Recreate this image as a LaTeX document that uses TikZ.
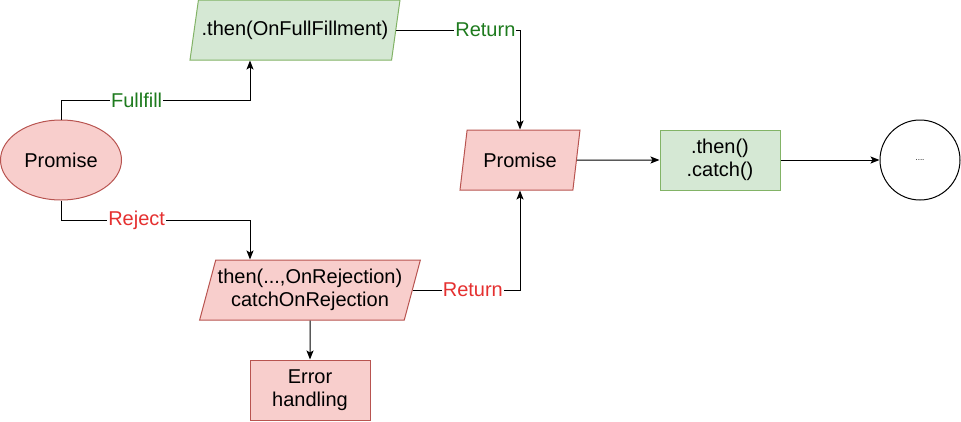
\documentclass[tikz,border=0pt]{standalone}
\usepackage{fontspec}
\setmainfont{Liberation Sans}
\usetikzlibrary{shapes.geometric,positioning,arrows.meta,calc}
\definecolor{okfill}{HTML}{D5E8D4}
\definecolor{okline}{HTML}{82B366}
\definecolor{errfill}{HTML}{F8CECC}
\definecolor{errline}{HTML}{B85450}
\definecolor{oktext}{HTML}{1E7B1E}
\definecolor{errtext}{HTML}{E53030}
\tikzset{
    block/.style = {draw, rectangle,
        minimum height=60,
        minimum width=120, align=center},
    io/.style = {draw, trapezium, trapezium left angle=71.57,
        trapezium right angle=108.43, trapezium stretches body,
        minimum height=60, inner xsep=2pt, align=center},
    term/.style = {draw, ellipse, minimum width=121, minimum height=80, inner sep=0pt},
    sink/.style = {draw, circle, minimum size=80, inner sep=0pt},
    lbl/.style = {fill=white, inner sep=1pt},
    arrow/.style = {draw, ->}
}

\begin{document}
\begin{tikzpicture}[x=1pt, y=-1pt, line width=1pt, >={Stealth[length=9pt,width=7pt,inset=2pt]},
    font=\fontsize{20}{23}\selectfont]
    \useasboundingbox (0,0) rectangle (961,421);
    % start
    \node [term, fill=errfill, draw=errline] (prom) at (61,160) {Promise};
    % both branches
    \node [io, fill=okfill, draw=okline, minimum width=210] (thenf) at (295,30) {.then(OnFullFillment)};
    \node [io, fill=errfill, draw=errline, minimum width=220] (catchr) at (310,290) {then(...,OnRejection)\\catchOnRejection};
    \node [block, fill=errfill, draw=errline, below of=catchr, node distance=100] (err) {Error\\handling};
    % chain
    \node [io, fill=errfill, draw=errline, minimum width=120] (prom2) at (520,160) {Promise};
    \node [block, fill=okfill, draw=okline, right of=prom2, node distance=200] (chain) {.then()\\.catch()};
    \node [sink, right of=chain, node distance=200, font=\fontsize{8}{10}\selectfont] (more) {....};
    \coordinate (fk) at (250,100);
    \coordinate (rk) at (250,220);
    \draw[arrow] (prom.north) |- node[lbl, pos=.7, text=oktext] {Fullfill} (fk) -- (fk |- thenf.south);
    \draw[arrow] (prom.south) |- node[lbl, pos=.7, text=errtext] {Reject} (rk) -- (rk |- catchr.north);
    \draw[arrow] (thenf.east) -| node[lbl, pos=.36, text=oktext] {Return} (prom2.north);
    \draw[arrow] (catchr.east) -| node[lbl, pos=.28, text=errtext] {Return} (prom2.south);
    \draw[arrow] (catchr) -- (err);
    \draw[arrow] (prom2) -- (chain);
    \draw[arrow] (chain) -- (more);
\end{tikzpicture}
\end{document}
